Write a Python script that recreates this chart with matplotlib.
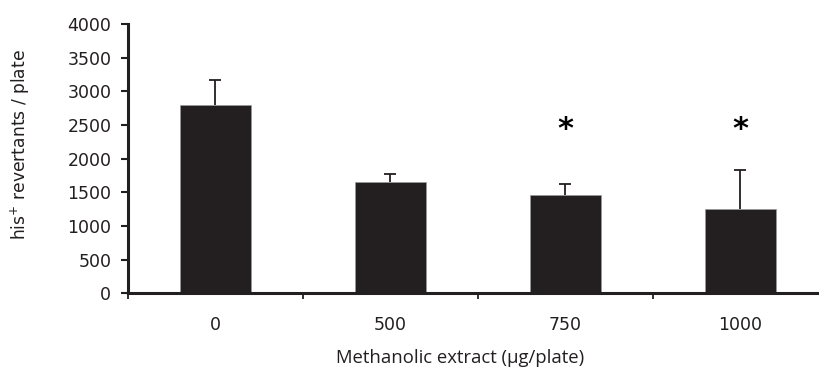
import matplotlib
matplotlib.use("Agg")
import matplotlib.pyplot as plt
import numpy as np

categories = ["0", "500", "750", "1000"]
means = [2790, 1650, 1460, 1255]
errors_up = [375, 127, 160, 573]
significant = [False, False, True, True]
star_level = 2440

yticks = [0, 500, 1000, 1500, 2000, 2500, 3000, 3500, 4000]

bar_color = "#231f20"

fig = plt.figure(figsize=(8.2, 3.71), dpi=100)
ax = fig.add_axes([128/820, 1 - 293.3/371, 700/820, (293.3 - 24)/371])

x = np.arange(len(categories))
ax.bar(x, means, width=0.41, color=bar_color, edgecolor="#9a9a9a", linewidth=0.5, zorder=2)
eb = ax.errorbar(x, means, yerr=[np.zeros(len(means)), errors_up], fmt="none",
                 ecolor=bar_color, elinewidth=1.3, capsize=4.2, capthick=1.3, zorder=3)
eb[1][0].set_visible(False)

for xi, s in zip(x, significant):
    if s:
        ax.text(xi, star_level, "*", ha="center", va="center", fontsize=22,
                fontweight="bold", color="black", family="DejaVu Sans")

ax.set_xlim(-0.5, len(categories) - 0.5)
ax.set_ylim(0, 4000)
ax.set_yticks(yticks)
ax.set_yticklabels([str(v) for v in yticks], fontsize=12.5, color="#231f20")

ax.set_xticks(np.arange(len(categories) + 1) - 0.5)
ax.set_xticklabels([])
ax.set_xticks(x, minor=True)
ax.set_xticklabels(categories, minor=True, fontsize=12.5, color="#231f20")
ax.tick_params(axis="x", which="major", direction="out", length=4.5, width=1.3, color="#231f20")
ax.tick_params(axis="x", which="minor", length=0, pad=16)
ax.tick_params(axis="y", direction="out", length=5, width=1.5, color="#231f20", pad=7)

for side in ["top", "right"]:
    ax.spines[side].set_visible(False)
for side in ["left", "bottom"]:
    ax.spines[side].set_linewidth(2.2)
    ax.spines[side].set_color("#231f20")
    ax.spines[side].set_zorder(4)

ax.set_ylabel("his$^{+}$ revertants / plate", fontsize=12.3, color="#231f20")
ax.yaxis.set_label_coords(-0.137, 0.554)
fig.text(460/820, 1 - 358/371, "Methanolic extract (µg/plate)", ha="center", va="center",
         fontsize=13.3, family="Open Sans", color="#231f20")

fig.savefig("out.png", dpi=100)
